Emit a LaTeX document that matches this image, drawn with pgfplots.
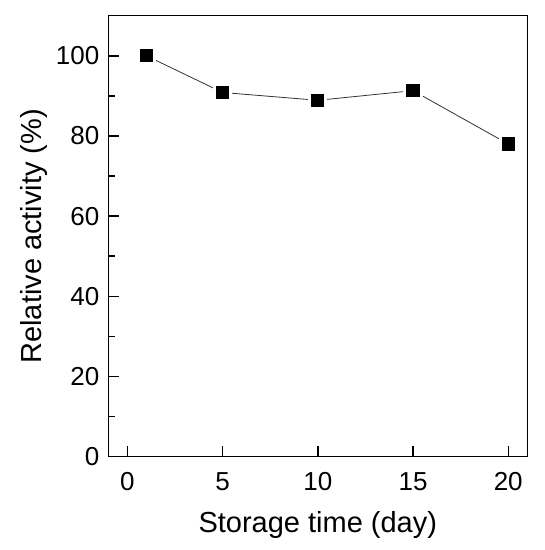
\documentclass[border=0pt]{standalone}
\usepackage{pgfplots}
\pgfplotsset{compat=1.18}
\usepackage{fontspec}
\setmainfont{Liberation Sans}
\begin{document}
\begin{tikzpicture}
\begin{axis}[
  at={(0,0)}, anchor=south west,
  scale only axis, width=419pt, height=441pt,
  xmin=-1, xmax=21, ymin=0, ymax=110,
  xtick={0,5,10,15,20},
  ytick={0,20,40,60,80,100},
  minor ytick={10,30,50,70,90},
  tick pos=left, tick align=inside,
  major tick length=11pt, minor tick length=6.5pt,
  every tick/.style={black, line width=1.5pt},
  axis line style={line width=1.5pt},
  /pgf/number format/assume math mode=true,
  tick label style={font=\fontsize{26}{30}\selectfont},
  xticklabel style={yshift=-12pt},
  yticklabel style={xshift=-5.5pt},
  xlabel={Storage time (day)},
  ylabel={Relative activity (\%)},
  label style={font=\fontsize{29}{34}\selectfont},
  xlabel style={at={(axis description cs:0.5,-0.173)}, anchor=base},
  ylabel style={at={(axis description cs:-0.1594,0.5)}, anchor=base, rotate=0},
]
\addplot[black!80, line width=0.8pt, mark=square*, mark size=8.2pt,
  mark options={draw=white, fill=black, line width=3pt, solid}]
  coordinates {(1,100) (5,90.85) (10,88.9) (15,91.3) (20,78.0)};
\end{axis}
\pgfresetboundingbox
\path (-108.3pt,-93.3pt) rectangle (436.7pt,456.7pt);
\end{tikzpicture}
\end{document}
